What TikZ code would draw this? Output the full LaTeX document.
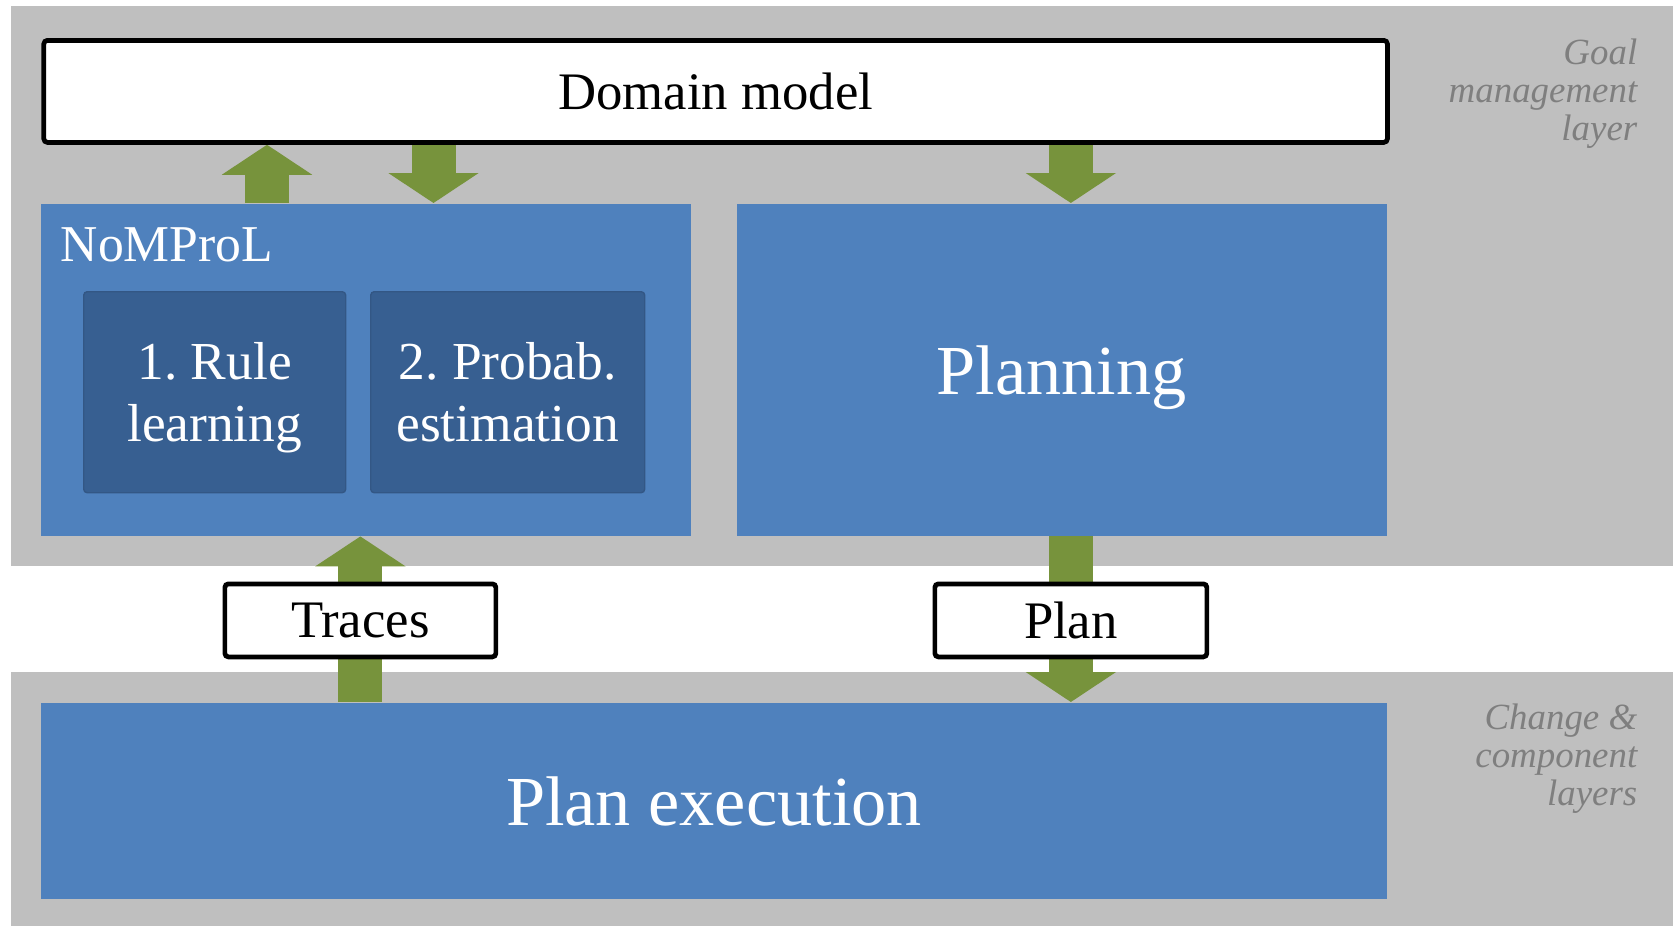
\documentclass[tikz,border=0pt]{standalone}
\usepackage{fontspec}
\setmainfont{Liberation Serif}
\usetikzlibrary{arrows.meta,positioning}

\definecolor{layergray}{HTML}{BFBFBF}
\definecolor{boxblue}{HTML}{4F81BD}
\definecolor{stepblue}{HTML}{375F91}
\definecolor{flowgreen}{HTML}{77933C}
\definecolor{notegray}{HTML}{7F7F7F}

\pgfdeclarelayer{bands}
\pgfdeclarelayer{flows}
\pgfsetlayers{bands,flows,main}

\tikzset{
  module/.style={fill=boxblue, text=white, anchor=north west, inner sep=0pt, text depth=0pt},
  substep/.style={fill=stepblue, draw=stepblue!92!black, rounded corners=1pt, text=white,
    align=center, anchor=north west, inner sep=0pt, text depth=0pt,
    font=\fontsize{15.2}{17.5}\selectfont},
  databox/.style={draw=black, line width=1.35pt, fill=white, rounded corners=1pt,
    anchor=north west, inner sep=0pt, font=\fontsize{15}{18}\selectfont},
  flow/.style={draw=flowgreen, line width=0.44cm, -{Triangle[width=0.89cm,length=0.3cm]}},
  layernote/.style={text=notegray, font=\itshape\fontsize{10.5}{10.8}\selectfont,
    align=right, anchor=north east, inner sep=0pt},
}

\begin{document}
\begin{tikzpicture}[x=1cm,y=-1cm]
    \useasboundingbox (0,0) rectangle (16.73,9.26);

    % Layers in the background
    \begin{pgfonlayer}{bands}
        \fill[layergray] (0.107,0.064) rectangle (16.73,5.655);
        \fill[layergray] (0.107,6.72) rectangle (16.73,9.26);
    \end{pgfonlayer}

    % Goal management layer
    \node[databox, minimum width=13.435cm, minimum height=1.02cm] (domain) at (0.415,0.38) {Domain model};
    \node[module, minimum width=6.495cm, minimum height=3.32cm] (nomprol) at (0.405,2.03) {};
    \node[anchor=base west, inner sep=0pt, text=white, font=\fontsize{14.7}{18}\selectfont]
        (nomprolname) at ([xshift=0.195cm, yshift=-0.58cm]nomprol.north west) {NoMProL};
    \node[substep, minimum width=2.62cm, minimum height=2.01cm] (rules) at (0.83,2.91) {1.\ Rule\\learning};
    \node[substep, minimum width=2.74cm, minimum height=2.01cm] (probab) at (3.70,2.91) {2.\ Probab.\\estimation};
    \node[module, minimum width=6.50cm, minimum height=3.32cm, font=\fontsize{20}{24}\selectfont]
        (planning) at (7.36,2.03) {Planning};

    % Data passed between the layers
    \node[databox, minimum width=2.71cm, minimum height=0.73cm] (traces) at (2.225,5.815) {Traces};
    \node[databox, minimum width=2.72cm, minimum height=0.73cm] (plan) at (9.325,5.815) {Plan};

    % Change & component layers
    \node[module, minimum width=13.455cm, minimum height=1.96cm, font=\fontsize{20}{24}\selectfont]
        (execution) at (0.405,7.02) {Plan execution};

    % Side notes
    \node[layernote] (goalnote) at (16.38,0.38) {Goal\\management\\layer};
    \node[layernote] (changenote) at (16.38,7.03) {Change \&\\component\\layers};

    % Green flow arrows
    \coordinate (learnup) at ([xshift=2.265cm]nomprol.north west);
    \coordinate (learndown) at ([xshift=3.93cm]nomprol.north west);
    \begin{pgfonlayer}{flows}
        \draw[flow] (learnup) -- (learnup |- domain.south);
        \draw[flow] (domain.south -| learndown) -- (learndown);
        \draw[flow] (domain.south -| plan.north) -- (planning.north -| plan.north);
        \draw[flow] (planning.south -| plan.north) -- (execution.north -| plan.north);
        \draw[flow] (execution.north -| traces.south) -- (nomprol.south -| traces.south);
    \end{pgfonlayer}
\end{tikzpicture}
\end{document}
